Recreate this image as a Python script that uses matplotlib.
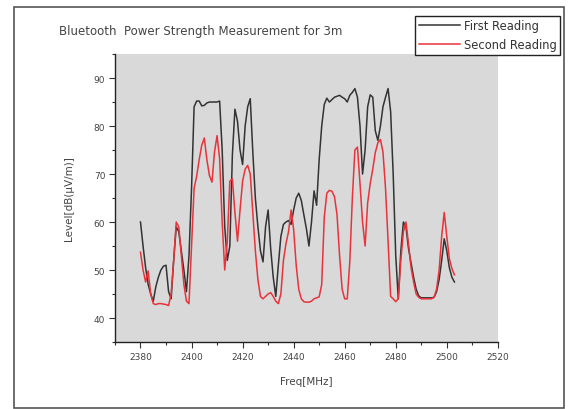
import matplotlib
matplotlib.use("Agg")
import matplotlib.pyplot as plt
import numpy as np
from matplotlib.patches import Rectangle
from matplotlib.ticker import MultipleLocator

# frequency axis, 1 MHz steps
freq = np.arange(2380, 2504)

first_reading = [
    60, 55, 50.5, 47, 45, 43.5, 46.5, 48.5, 50, 50.8,
    51, 45.5, 44, 52, 59, 58, 54, 50, 45.5, 53,
    67, 84, 85.2, 85.2, 84.2, 84.3, 84.8, 85, 85, 85,
    85, 85.2, 75, 59, 52, 55, 74, 83.5, 81, 75,
    72, 80, 84, 85.7, 74.6, 65, 59, 54, 51.7, 59,
    62.5, 54.5, 48.5, 44.5, 51, 57, 59.5, 60, 60.3, 59.5,
    62.5, 65, 66, 64.5, 61.5, 58.6, 55, 60, 66.5, 63.5,
    73, 80, 84.5, 85.8, 85, 85.5, 86, 86.2, 86.4, 86,
    85.7, 85, 86.4, 87, 87.8, 86, 80, 70, 75, 84,
    86.5, 86, 79, 77, 80, 84, 86, 87.8, 83, 70,
    53, 44, 54, 60, 59, 54.5, 51.5, 48.5, 46, 44.6,
    44.2, 44.2, 44.2, 44.2, 44.2, 44.3, 45.5, 48, 52, 56.5,
    54, 50.5, 48.5, 47.5,
]

second_reading = [
    53.7, 50, 47.5, 49.8, 45, 43, 42.8, 43, 43, 42.9,
    42.8, 42.6, 45, 52, 60, 59, 53, 47, 43.5, 43,
    55, 67, 69.5, 73, 76, 77.5, 73, 69.7, 68.3, 74.6,
    78, 73.2, 60, 50, 56, 68.5, 69, 62, 56, 62.5,
    68.5, 71, 71.8, 70, 62, 54, 48, 44.5, 44, 44.5,
    45, 45.3, 44.5, 43.5, 43, 45, 52, 55.5, 58, 62.5,
    58.5, 51, 46, 44, 43.4, 43.3, 43.3, 43.5, 44, 44.2,
    44.4, 47, 61, 66, 66.6, 66.4, 65.3, 61.5, 53, 46,
    44, 44, 51.7, 65, 75, 75.6, 68, 60, 55, 64,
    68, 71, 74.5, 76.5, 77.2, 74.6, 67, 56, 44.5, 44,
    43.4, 44, 52, 58, 60, 55.5, 50.5, 47.5, 45, 44.3,
    44, 44, 44, 44, 44, 44.3, 46, 50, 57, 62,
    57, 52.4, 50.3, 49,
]

txt = "#444444"

fig = plt.figure(figsize=(5.74, 4.10), dpi=100)
fig.patches.append(Rectangle((0.025, 0.003), 0.958, 0.978, transform=fig.transFigure,
                             fill=False, edgecolor="#555555", linewidth=1.2))

ax = fig.add_axes([0.2003, 0.1634, 0.667, 0.7024])
ax.set_facecolor("#d9d9d9")

ax.plot(freq, first_reading, color="#333333", linewidth=1.1, label="First Reading")
ax.plot(freq, second_reading, color="#e8333b", linewidth=1.1, label="Second Reading")

ax.set_xlim(2370, 2520)
ax.set_ylim(35, 95)
ax.xaxis.set_major_locator(MultipleLocator(20))
ax.xaxis.set_minor_locator(MultipleLocator(10))
ax.yaxis.set_major_locator(MultipleLocator(10))
ax.yaxis.set_minor_locator(MultipleLocator(5))

for s in ["top", "right"]:
    ax.spines[s].set_visible(False)
for s in ["left", "bottom"]:
    ax.spines[s].set_color("#222222")
    ax.spines[s].set_linewidth(1.0)

ax.tick_params(which="major", direction="out", length=4, width=0.8, colors="#333333",
               labelsize=6.5, labelcolor=txt, pad=3)
ax.tick_params(which="minor", direction="out", length=2.5, width=0.8, colors="#333333")

ax.set_xlabel("Freq[MHz]", fontsize=7.5, color=txt, labelpad=11)
ax.set_ylabel("Level[dB(µV/m)]", fontsize=7.5, color=txt, labelpad=14)

fig.text(0.103, 0.922, "Bluetooth  Power Strength Measurement for 3m",
         fontsize=8.5, color=txt, ha="left", va="center")

leg = fig.legend(loc="upper right", bbox_to_anchor=(0.9756, 0.9585), fontsize=8.3,
                 frameon=True, fancybox=False, framealpha=1, edgecolor="#222222",
                 handlelength=3.6, handletextpad=0.3, borderpad=0.3,
                 labelspacing=0.5, borderaxespad=0)
leg.get_frame().set_linewidth(1.0)
for t in leg.get_texts():
    t.set_color("#333333")

fig.savefig("out.png", dpi=100)
